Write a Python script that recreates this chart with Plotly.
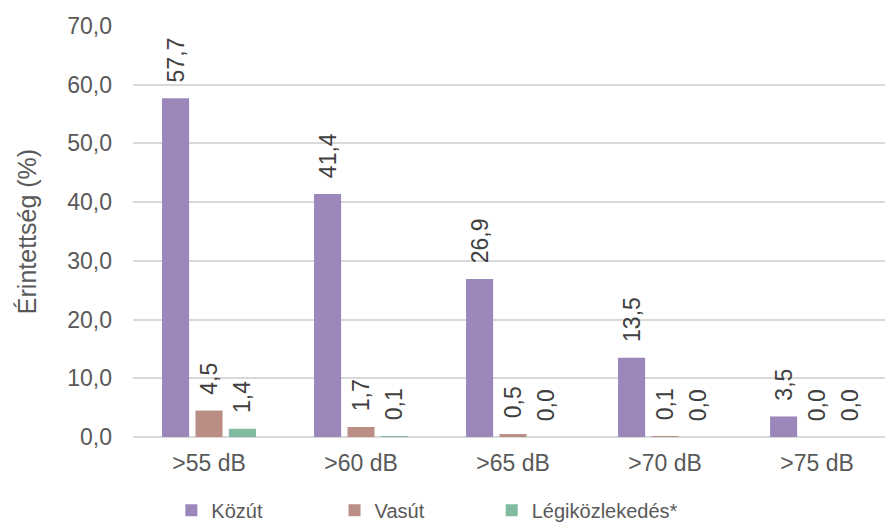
import plotly.graph_objects as go

# Noise exposure shares by threshold level and source
categories = [">55 dB", ">60 dB", ">65 dB", ">70 dB", ">75 dB"]
kozut = [57.7, 41.4, 26.9, 13.5, 3.5]
vasut = [4.5, 1.7, 0.5, 0.1, 0.0]
legi = [1.4, 0.1, 0.0, 0.0, 0.0]

series_names = ["Közút", "Vasút", "Légiközlekedés*"]
series_colors = ["#9c87bb", "#ba8e84", "#80ba9f"]
y_ticks = [0, 10, 20, 30, 40, 50, 60, 70]

FONT = "Liberation Sans, Arial, sans-serif"

# each series gets its own legend box so the entries can be spaced freely
legend_ids = ["legend", "legend2", "legend3"]
legend_x = [0.051, 0.268, 0.477]

fig = go.Figure()
for name, vals, color, lid in zip(series_names, [kozut, vasut, legi], series_colors, legend_ids):
    fig.add_trace(go.Bar(
        x=categories,
        y=vals,
        name=name,
        legend=lid,
        marker=dict(color=color, line=dict(width=0)),
        texttemplate="\u00a0\u00a0%{y:.1f}",
        textposition="outside",
        textangle=-90,
        constraintext="none",
        cliponaxis=False,
        textfont=dict(family=FONT, size=23, color="#404040"),
        hoverinfo="skip",
    ))

legend_style = dict(
    orientation="h",
    xanchor="left",
    y=-0.178,
    yanchor="middle",
    font=dict(family=FONT, size=20, color="#595959"),
    itemwidth=30,
    bgcolor="rgba(0,0,0,0)",
)

fig.update_layout(
    width=885,
    height=526,
    margin=dict(l=133, r=0, t=26, b=89, autoexpand=False),
    paper_bgcolor="white",
    plot_bgcolor="white",
    separators=", ",
    barmode="group",
    bargap=0.34,
    bargroupgap=0.19,
    font=dict(family=FONT, color="#595959"),
    showlegend=True,
    legend=dict(x=legend_x[0], **legend_style),
    legend2=dict(x=legend_x[1], **legend_style),
    legend3=dict(x=legend_x[2], **legend_style),
    xaxis=dict(
        type="category",
        range=[-0.5, 4.447],
        showgrid=False,
        showline=False,
        ticks="",
        tickfont=dict(family=FONT, size=23, color="#595959"),
        ticklabelstandoff=10,
    ),
    yaxis=dict(
        range=[0, 70],
        tickvals=y_ticks,
        tickformat=".1f",
        showgrid=True,
        gridcolor="#d9d9d9",
        gridwidth=1.5,
        zeroline=True,
        zerolinecolor="#d9d9d9",
        zerolinewidth=1.5,
        showline=False,
        ticks="",
        tickfont=dict(family=FONT, size=23, color="#595959"),
        ticklabelstandoff=20,
        title=dict(
            text="Érintettség (%)",
            font=dict(family=FONT, size=25, color="#595959"),
            standoff=23,
        ),
    ),
)

fig.write_html("out.html")
